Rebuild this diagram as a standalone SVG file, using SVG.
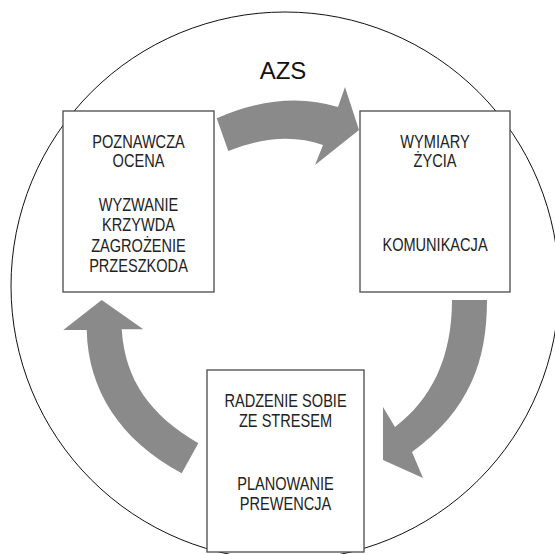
<svg xmlns="http://www.w3.org/2000/svg" width="555" height="554" viewBox="0 0 555 554">
  <style>
    .box { fill: #ffffff; stroke: #4a4a4a; stroke-width: 1.3; }
    .lbl { font-family: "Liberation Sans", Arial, sans-serif; font-size: 18px; fill: #222222; text-anchor: middle; }
    .arrow { fill: #8a8a8a; stroke: none; }
    .title { font-family: "Liberation Sans", Arial, sans-serif; font-size: 24px; fill: #111111; text-anchor: middle; }
  </style>
  <rect x="0" y="0" width="555" height="554" fill="#ffffff"/>
  <circle id="frame" cx="285" cy="286" r="274" fill="none" stroke="#111111" stroke-width="1"/>
  <text id="title" class="title" x="283" y="79">AZS</text>
  <g id="connectors">
    <path class="arrow" d="M216.7,118.3 Q282.5,89.5 338,107 L345,87 L359,130 L315,165 L323,145 Q280.5,130 228.3,151 Z"/>
    <path class="arrow" d="M452,300 L487,300 C487,360 470,410 412,452 L423,478 L383,460 L383,407 L395,427 C430,400 452,360 452,300 Z"/>
    <path class="arrow" d="M121.7,329.3 C125,380 150,415 198.3,443.3 L181.7,473.3 C120,440 88,390 86.7,330 L63.3,330 L101.7,300 L143.3,329.3 Z"/>
  </g>
  <g id="node-ocena">
    <rect class="box" x="63" y="111" width="151" height="181"/>
    <g transform="translate(138.5,0) scale(0.81,1)">
      <text class="lbl" x="0" y="148">POZNAWCZA</text>
      <text class="lbl" x="0" y="167">OCENA</text>
      <text class="lbl" x="0" y="211">WYZWANIE</text>
      <text class="lbl" x="0" y="231">KRZYWDA</text>
      <text class="lbl" x="0" y="252">ZAGROŻENIE</text>
      <text class="lbl" x="0" y="272">PRZESZKODA</text>
    </g>
  </g>
  <g id="node-wymiary">
    <rect class="box" x="360" y="111" width="150" height="181"/>
    <g transform="translate(435,0) scale(0.81,1)">
      <text class="lbl" x="0" y="148">WYMIARY</text>
      <text class="lbl" x="0" y="167">ŻYCIA</text>
      <text class="lbl" x="0" y="251">KOMUNIKACJA</text>
    </g>
  </g>
  <g id="node-radzenie">
    <rect class="box" x="207" y="370" width="157" height="182"/>
    <g transform="translate(285.5,0) scale(0.81,1)">
      <text class="lbl" x="0" y="407">RADZENIE SOBIE</text>
      <text class="lbl" x="0" y="427">ZE STRESEM</text>
      <text class="lbl" x="0" y="490">PLANOWANIE</text>
      <text class="lbl" x="0" y="510">PREWENCJA</text>
    </g>
  </g>
</svg>
